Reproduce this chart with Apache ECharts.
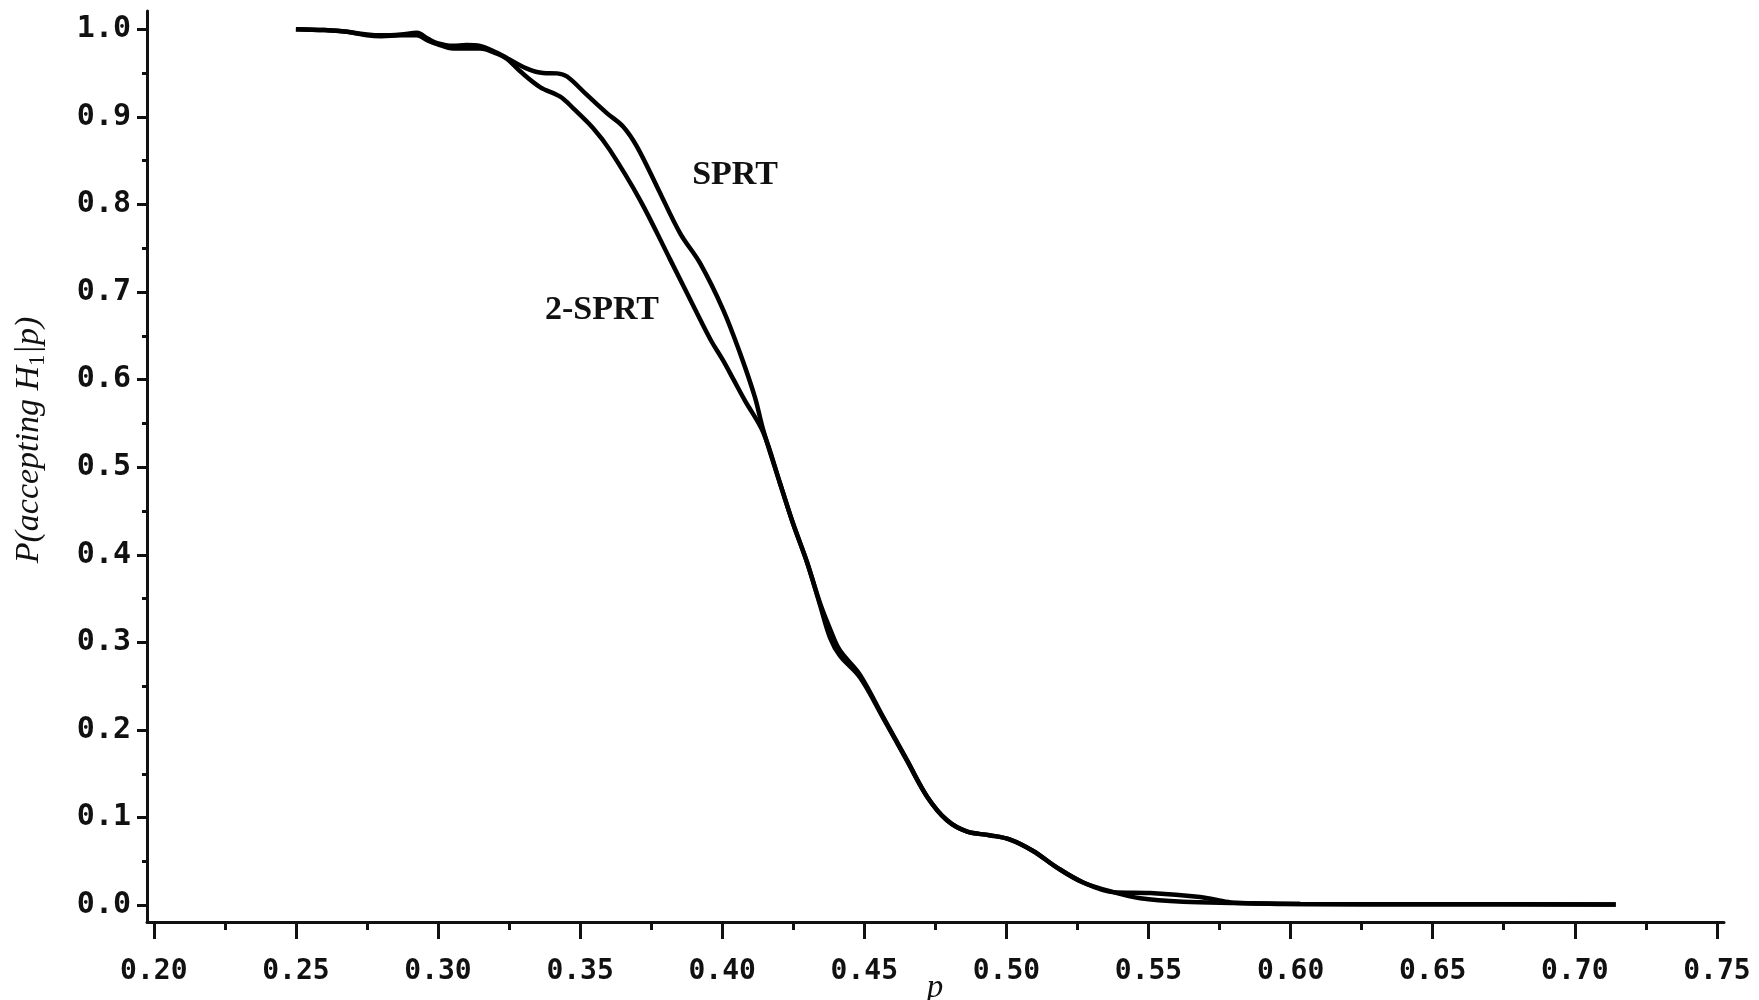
<!DOCTYPE html>
<html>
<head>
<meta charset="utf-8">
<script src="https://cdn.jsdelivr.net/npm/echarts@6/dist/echarts.min.js"></script>
<style>
  html, body { margin: 0; padding: 0; background: #fff; }
  #chart { width: 1759px; height: 1000px; }
</style>
</head>
<body>
<div id="chart"></div>
<script>
// operating characteristic curves
const pSprt = [0.250, 0.260, 0.268, 0.275, 0.280, 0.287, 0.2926, 0.2965, 0.2997, 0.3053, 0.3100, 0.3148,
  0.3208, 0.3243, 0.3313, 0.3370, 0.3419, 0.3454, 0.3524, 0.3595, 0.3651, 0.3700, 0.3771, 0.3852, 0.3922,
  0.4003, 0.4063, 0.4115, 0.4144, 0.4203, 0.4249, 0.4299, 0.4344, 0.4380, 0.4414, 0.4485, 0.4566, 0.4650,
  0.4721, 0.4791, 0.4862, 0.4940, 0.5013, 0.5094, 0.5178, 0.5270, 0.5376, 0.5471, 0.5622, 0.5798, 0.6034,
  0.6500, 0.7144]
const accSprt = [1.000, 0.999, 0.997, 0.994, 0.993, 0.994, 0.996, 0.989, 0.984, 0.981, 0.982, 0.981,
  0.973, 0.967, 0.955, 0.950, 0.9496, 0.946, 0.925, 0.904, 0.889, 0.866, 0.820, 0.767, 0.733,
  0.680, 0.630, 0.580, 0.543, 0.482, 0.436, 0.391, 0.345, 0.315, 0.291, 0.263, 0.215, 0.166,
  0.124, 0.097, 0.084, 0.080, 0.075, 0.062, 0.043, 0.026, 0.015, 0.008, 0.004, 0.0026, 0.0015,
  0.0012, 0.0010]

const p2Sprt = [0.250, 0.260, 0.268, 0.275, 0.280, 0.287, 0.2926, 0.2965, 0.2997, 0.3053, 0.3100, 0.3148,
  0.3208, 0.3243, 0.3289, 0.3359, 0.3430, 0.3475, 0.3546, 0.3605, 0.3711, 0.3817, 0.3911, 0.3960, 0.4003,
  0.4040, 0.4080, 0.4144, 0.4203, 0.4249, 0.4299, 0.4344, 0.4380, 0.4414, 0.4485, 0.4566, 0.4650, 0.4721,
  0.4791, 0.4862, 0.4940, 0.5013, 0.5094, 0.5178, 0.5270, 0.5376, 0.5506, 0.5682, 0.5741, 0.5798, 0.6034,
  0.6500, 0.7144]
const acc2Sprt = [1.000, 0.999, 0.997, 0.993, 0.992, 0.993, 0.993, 0.987, 0.983, 0.978, 0.978, 0.978,
  0.972, 0.966, 0.952, 0.934, 0.923, 0.910, 0.887, 0.862, 0.805, 0.737, 0.676, 0.645, 0.622,
  0.600, 0.576, 0.540, 0.482, 0.436, 0.391, 0.343, 0.305, 0.285, 0.260, 0.214, 0.165, 0.124,
  0.097, 0.084, 0.080, 0.075, 0.062, 0.043, 0.026, 0.015, 0.014, 0.0095, 0.006, 0.003, 0.0015,
  0.0012, 0.0010]

const xMajorTicks = [0.20, 0.25, 0.30, 0.35, 0.40, 0.45, 0.50, 0.55, 0.60, 0.65, 0.70, 0.75]
const xMinorTicks = [0.225, 0.275, 0.325, 0.375, 0.425, 0.475, 0.525, 0.575, 0.625, 0.675, 0.725]
const yMajorTicks = [0.0, 0.1, 0.2, 0.3, 0.4, 0.5, 0.6, 0.7, 0.8, 0.9, 1.0]
const yMinorTicks = [0.05, 0.15, 0.25, 0.35, 0.45, 0.55, 0.65, 0.75, 0.85, 0.95]

const ink = '#111'
const tickFont = { fontFamily: 'DejaVu Sans Mono', fontWeight: 'bold', color: ink }

const chart = echarts.init(document.getElementById('chart'))

const xMin = 0.1976, xMax = 0.7525
const yMin = -0.0191, yMax = 1.0208

// an extra axis that only draws ticks at the given values
const tickAxis = (min, max, position, values, length) => ({
  type: 'value', min, max, position, offset: 0,
  axisLine: { show: false, onZero: false },
  axisTick: { show: true, customValues: values, length, lineStyle: { color: ink, width: 3 } },
  axisLabel: { show: false },
  splitLine: { show: false }
})

chart.setOption({
  animation: false,
  backgroundColor: '#fff',
  grid: { left: 147, right: 35, top: 11, bottom: 78 },
  xAxis: [
    {
      type: 'value', min: xMin, max: xMax, position: 'bottom',
      axisLine: { show: true, onZero: false, lineStyle: { color: ink, width: 3 } },
      axisTick: { show: true, customValues: xMajorTicks, length: 17, lineStyle: { color: ink, width: 3 } },
      axisLabel: { customValues: xMajorTicks, formatter: v => v.toFixed(2), margin: 36, fontSize: 28, ...tickFont },
      splitLine: { show: false }
    },
    tickAxis(xMin, xMax, 'bottom', xMinorTicks, 8)
  ],
  yAxis: [
    {
      type: 'value', min: yMin, max: yMax, position: 'left',
      axisLine: { show: true, onZero: false, lineStyle: { color: ink, width: 3 } },
      axisTick: { show: true, customValues: yMajorTicks, length: 10, lineStyle: { color: ink, width: 3 } },
      axisLabel: { customValues: yMajorTicks, formatter: v => v.toFixed(1), margin: 16, fontSize: 30, ...tickFont },
      splitLine: { show: false }
    },
    tickAxis(yMin, yMax, 'left', yMinorTicks, 5)
  ],
  series: [
    {
      name: 'SPRT', type: 'line', showSymbol: false, smooth: 0.35,
      data: pSprt.map((p, i) => [p, accSprt[i]]),
      lineStyle: { color: '#000', width: 4.5 }
    },
    {
      name: '2-SPRT', type: 'line', showSymbol: false, smooth: 0.35,
      data: p2Sprt.map((p, i) => [p, acc2Sprt[i]]),
      lineStyle: { color: '#000', width: 4.5 }
    }
  ],
  graphic: [
    {
      type: 'text', x: 29, y: 440, rotation: Math.PI / 2,
      style: {
        text: '{i|P(accepting H}{s|1}{i||p)}',
        align: 'center', verticalAlign: 'middle',
        rich: {
          i: { fontFamily: 'Liberation Serif', fontStyle: 'italic', fontSize: 34, lineHeight: 40, fill: ink, verticalAlign: 'middle' },
          s: { fontFamily: 'Liberation Serif', fontSize: 23, lineHeight: 22, fill: ink, verticalAlign: 'bottom' }
        }
      }
    },
    {
      type: 'text', x: 935, y: 988,
      style: { text: 'p', fontFamily: 'Liberation Serif', fontStyle: 'italic', fontSize: 33, fill: ink, align: 'center', verticalAlign: 'middle' }
    },
    {
      type: 'text', x: 735, y: 175,
      style: { text: 'SPRT', fontFamily: 'Liberation Serif', fontWeight: 'bold', fontSize: 34, fill: ink, align: 'center', verticalAlign: 'middle' }
    },
    {
      type: 'text', x: 602, y: 310,
      style: { text: '2-SPRT', fontFamily: 'Liberation Serif', fontWeight: 'bold', fontSize: 34, fill: ink, align: 'center', verticalAlign: 'middle' }
    }
  ]
})

window.addEventListener('resize', () => chart.resize())
</script>
</body>
</html>
